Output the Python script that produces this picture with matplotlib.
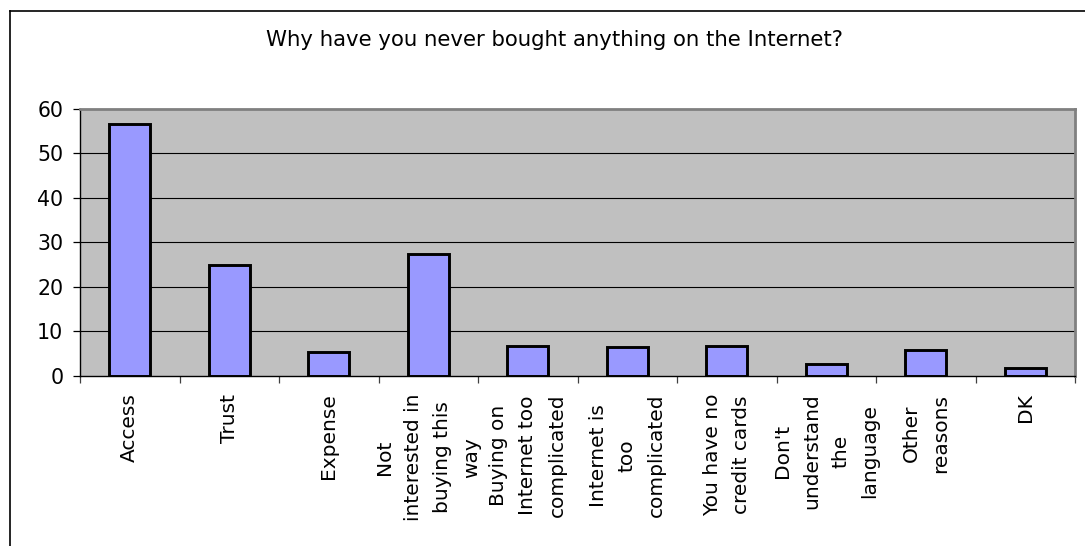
import matplotlib
matplotlib.use("Agg")
import matplotlib.pyplot as plt
from matplotlib.lines import Line2D
import numpy as np

categories = ["Access", "Trust", "Expense", "Not\ninterested in\nbuying this\nway",
              "Buying on\nInternet too\ncomplicated", "Internet is\ntoo\ncomplicated",
              "You have no\ncredit cards", "Don't\nunderstand\nthe\nlanguage",
              "Other\nreasons", "DK"]
values = [56.6, 24.9, 5.2, 27.4, 6.6, 6.5, 6.7, 2.5, 5.7, 1.7]
y_ticks = [0, 10, 20, 30, 40, 50, 60]
title = "Why have you never bought anything on the Internet?"

W, H = 1085, 546
fig = plt.figure(figsize=(W / 100, H / 100), dpi=100)
fig.patch.set_facecolor("white")

# figure border (left and top visible)
fig.add_artist(Line2D([10 / W, 10 / W], [0, 1 - 11 / H], transform=fig.transFigure, color="black", lw=1.2))
fig.add_artist(Line2D([10 / W, 1], [1 - 11 / H, 1 - 11 / H], transform=fig.transFigure, color="black", lw=1.2))

left, right = 80 / W, 1075 / W
bottom, top = 1 - 375.5 / H, 1 - 109 / H
ax = fig.add_axes([left, bottom, right - left, top - bottom])
ax.set_facecolor("#C0C0C0")

x = np.arange(len(categories))
ax.bar(x, values, width=0.41, color="#9999FF", edgecolor="black", linewidth=2.1, zorder=3)

ax.set_xlim(-0.5, len(categories) - 0.5)
ax.set_ylim(0, 60)
ax.set_yticks(y_ticks)
ax.set_yticklabels([str(v) for v in y_ticks], fontsize=14.8)
for v in y_ticks[1:-1]:
    ax.axhline(v, color="black", lw=0.8, zorder=1)

ax.set_xticks(x)
ax.set_xticklabels(categories, rotation=90, fontsize=14.5, ha="center", va="top",
                   multialignment="center", linespacing=1.68)
ax.tick_params(axis="x", which="major", length=0, pad=13)
ax.set_xticks(np.arange(-0.5, len(categories)), minor=True)
ax.tick_params(axis="x", which="minor", length=5, width=0.9, color="#404040", direction="out")
ax.tick_params(axis="y", length=5, width=0.9, pad=7, direction="out")

for s in ["left", "bottom"]:
    ax.spines[s].set_color("black")
    ax.spines[s].set_linewidth(1.0)
for s in ["top", "right"]:
    ax.spines[s].set_color("#808080")
    ax.spines[s].set_linewidth(2.0)

fig.text(555 / W, 1 - 40 / H, title, ha="center", va="center", fontsize=15.3)

fig.savefig("out.png", dpi=100)
